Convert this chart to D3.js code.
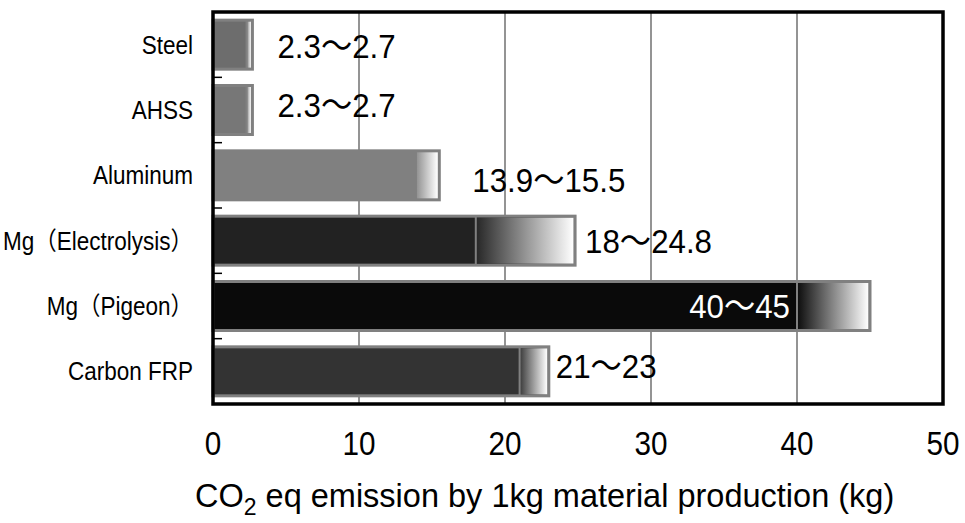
<!DOCTYPE html>
<html>
<head>
<meta charset="utf-8">
<script src="https://cdn.jsdelivr.net/npm/d3@7"></script>
<style>
  body { margin: 0; background: #fff; }
  text { font-family: "Liberation Sans", Arial, "Noto Sans CJK JP", sans-serif; }
</style>
</head>
<body>
<div id="chart"></div>
<script>
// data
const materials = ["Steel", "AHSS", "Aluminum", "Mg（Electrolysis）", "Mg（Pigeon）", "Carbon FRP"];
const lowValues = [2.3, 2.3, 13.9, 18, 40, 21];
const highValues = [2.7, 2.7, 15.5, 24.8, 45, 23];
const rangeLabels = ["2.3～2.7", "2.3～2.7", "13.9～15.5", "18～24.8", "40～45", "21～23"];
const xTicks = [0, 10, 20, 30, 40, 50];

// layout / style
const fills = ["#6d6d6d", "#777777", "#808080", "#222222", "#0a0a0a", "#333333"];
const labelDx = [25, 25, 33, 10, -7, 7];   // negative = inside, right aligned at low value
const labelDy = [1, -5, 4, 0, 0, -6];
const sx = 0.92; // value/category text is a bit condensed

const W = 965, H = 523;
const margin = { top: 12, right: 22, bottom: 119, left: 213 };

const svg = d3.select("#chart").append("svg")
  .attr("width", W).attr("height", H);

const x = d3.scaleLinear().domain([0, 50]).range([margin.left, W - margin.right]);
const y = d3.scaleBand().domain(materials)
  .range([margin.top, H - margin.bottom])
  .paddingInner(0.25).paddingOuter(0.125);

const rows = materials.map((m, i) => ({
  name: m, lo: lowValues[i], hi: highValues[i], label: rangeLabels[i], i
}));

// gradients
const defs = svg.append("defs");
rows.forEach(d => {
  const g = defs.append("linearGradient").attr("id", "grad" + d.i)
    .attr("x1", "0%").attr("x2", "100%").attr("y1", "0%").attr("y2", "0%");
  g.append("stop").attr("offset", "0%").attr("stop-color", d3.color(fills[d.i]).brighter(0.3));
  g.append("stop").attr("offset", "100%").attr("stop-color", "#ffffff");
});

// grid lines
svg.append("g").selectAll("line")
  .data(xTicks.slice(1, -1))
  .join("line")
  .attr("x1", d => x(d)).attr("x2", d => x(d))
  .attr("y1", margin.top).attr("y2", H - margin.bottom)
  .attr("stroke", "#707070").attr("stroke-width", 1.5);

// bars
const bar = svg.append("g").selectAll("g")
  .data(rows).join("g");

bar.append("rect")
  .attr("x", x(0)).attr("y", d => y(d.name))
  .attr("width", d => x(d.hi) - x(0)).attr("height", y.bandwidth())
  .attr("fill", d => fills[d.i])
  .attr("stroke", "#808080").attr("stroke-width", 3);

bar.append("rect")
  .attr("x", d => x(d.lo)).attr("y", d => y(d.name) + 1.5)
  .attr("width", d => x(d.hi) - x(d.lo) - 1.5).attr("height", y.bandwidth() - 3)
  .attr("fill", d => `url(#grad${d.i})`);

bar.append("line")
  .attr("x1", d => x(d.lo)).attr("x2", d => x(d.lo))
  .attr("y1", d => y(d.name)).attr("y2", d => y(d.name) + y.bandwidth())
  .attr("stroke", "#808080").attr("stroke-width", 2);

// value labels
bar.append("text")
  .attr("transform", d => {
    const inside = labelDx[d.i] < 0;
    const px = inside ? x(d.lo) + labelDx[d.i] : x(d.hi) + labelDx[d.i];
    const py = y(d.name) + y.bandwidth() / 2 + labelDy[d.i];
    return `translate(${px},${py}) scale(${sx},1)`;
  })
  .attr("dy", "0.36em")
  .attr("text-anchor", d => labelDx[d.i] < 0 ? "end" : "start")
  .attr("fill", d => labelDx[d.i] < 0 ? "#ffffff" : "#000000")
  .style("font-size", "34px")
  .text(d => d.label);

// frame
svg.append("rect")
  .attr("x", x(0)).attr("y", margin.top)
  .attr("width", x(50) - x(0)).attr("height", H - margin.bottom - margin.top)
  .attr("fill", "none").attr("stroke", "#000").attr("stroke-width", 3.5);

// category ticks between rows
const step = y.step();
svg.append("g").selectAll("line")
  .data(materials.slice(1))
  .join("line")
  .attr("x1", x(0)).attr("x2", x(0) + 9)
  .attr("y1", d => y(d) - step * 0.125).attr("y2", d => y(d) - step * 0.125)
  .attr("stroke", "#000").attr("stroke-width", 1.5);

// category labels
svg.append("g").selectAll("text")
  .data(materials)
  .join("text")
  .attr("transform", d => `translate(${x(0) - 20},${y(d) + y.bandwidth() / 2}) scale(0.9,1)`)
  .attr("dy", "0.36em")
  .attr("text-anchor", "end")
  .style("font-size", "25px")
  .text(d => d);

// x tick labels
svg.append("g").selectAll("text")
  .data(xTicks)
  .join("text")
  .attr("transform", d => `translate(${x(d)},${443}) scale(0.9,1)`)
  .attr("dy", "0.36em")
  .attr("text-anchor", "middle")
  .style("font-size", "33px")
  .text(d => d);

// axis title
const title = svg.append("text")
  .attr("transform", `translate(195,507)`)
  .style("font-size", "32.5px");
title.append("tspan").text("CO");
title.append("tspan").attr("dy", 8).style("font-size", "23px").text("2");
title.append("tspan").attr("dy", -8).text(" eq emission by 1kg material production (kg)");
</script>
</body>
</html>
